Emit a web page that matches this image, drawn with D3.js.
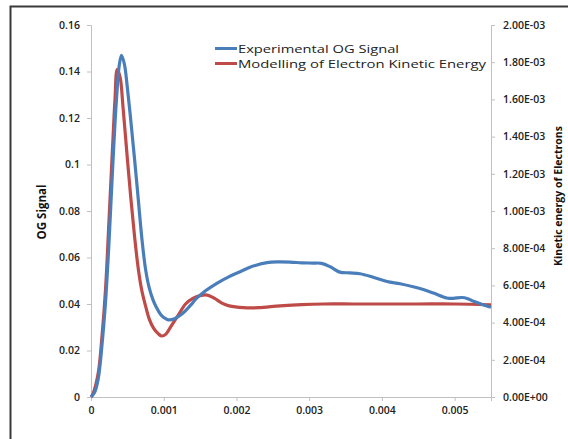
<!DOCTYPE html>
<html><head><meta charset="utf-8">
<script src="https://cdn.jsdelivr.net/npm/d3@7"></script>
<style>
html,body{margin:0;padding:0;background:#fff;}
svg{display:block;font-family:"Open Sans","Liberation Sans",sans-serif;}
</style></head>
<body><svg id="c" width="568" height="439"></svg>
<script>
// ---- data ----
const xTicks = [0, 0.001, 0.002, 0.003, 0.004, 0.005];
const xTickLabels = ["0", "0.001", "0.002", "0.003", "0.004", "0.005"];
const leftTicks = [0, 0.02, 0.04, 0.06, 0.08, 0.1, 0.12, 0.14, 0.16];
const leftTickLabels = ["0", "0.02", "0.04", "0.06", "0.08", "0.1", "0.12", "0.14", "0.16"];
const rightTicks = [0, 0.0002, 0.0004, 0.0006, 0.0008, 0.001, 0.0012, 0.0014, 0.0016, 0.0018, 0.002];
const rightTickLabels = ["0.00E+00", "2.00E-04", "4.00E-04", "6.00E-04", "8.00E-04", "1.00E-03", "1.20E-03", "1.40E-03", "1.60E-03", "1.80E-03", "2.00E-03"];
const seriesNames = ["Experimental OG Signal", "Modelling of Electron Kinetic Energy"];

// Experimental OG signal (left axis)
const ogTime = [0, 0.00005, 0.0001, 0.00015, 0.0002, 0.00025, 0.0003, 0.00035, 0.00039, 0.00042, 0.00046, 0.0005, 0.00055, 0.0006, 0.00065, 0.0007, 0.00075, 0.0008, 0.00085, 0.0009, 0.00095, 0.001, 0.00106, 0.00115, 0.00127, 0.00137, 0.00145, 0.00158, 0.00173, 0.0019, 0.00205, 0.00222, 0.00242, 0.00258, 0.00274, 0.0029, 0.00305, 0.00317, 0.00329, 0.00342, 0.00356, 0.0037, 0.00388, 0.00407, 0.00425, 0.00443, 0.00458, 0.00471, 0.00489, 0.00498, 0.0051, 0.00518, 0.00526, 0.00538, 0.0055];
const ogSignal = [0, 0.002, 0.008, 0.022, 0.041, 0.068, 0.100, 0.128, 0.143, 0.147, 0.143, 0.133, 0.118, 0.102, 0.085, 0.068, 0.055, 0.047, 0.042, 0.0385, 0.0358, 0.0342, 0.0332, 0.0337, 0.0362, 0.0395, 0.0424, 0.0458, 0.0489, 0.0518, 0.0539, 0.0562, 0.0578, 0.0581, 0.0580, 0.0577, 0.0576, 0.0575, 0.0560, 0.0537, 0.0534, 0.0530, 0.0515, 0.0497, 0.0487, 0.0474, 0.0461, 0.0447, 0.0426, 0.0424, 0.0428, 0.0423, 0.0412, 0.0398, 0.0386];

// Modelled electron kinetic energy (right axis)
const keTime = [0, 0.00003, 0.0001, 0.00015, 0.0002, 0.00025, 0.0003, 0.00033, 0.00036, 0.0004, 0.00044, 0.0005, 0.00055, 0.0006, 0.00065, 0.0007, 0.00075, 0.0008, 0.00086, 0.00092, 0.00097, 0.00103, 0.0011, 0.0012, 0.0013, 0.0014, 0.0015, 0.0016, 0.0017, 0.0018, 0.0019, 0.0021, 0.0023, 0.0026, 0.0029, 0.0032, 0.0036, 0.004, 0.0045, 0.005, 0.0055];
const keEnergy = [0, 0.00002, 0.00013, 0.00032, 0.00058, 0.00097, 0.00137, 0.00160, 0.00176, 0.00172, 0.00156, 0.00128, 0.00106, 0.00086, 0.00069, 0.00057, 0.00049, 0.00042, 0.00037, 0.000342, 0.000328, 0.000338, 0.00038, 0.00044, 0.00050, 0.00053, 0.000545, 0.000548, 0.00053, 0.000505, 0.00049, 0.00048, 0.00048, 0.00049, 0.000497, 0.0005, 0.0005, 0.0005, 0.0005, 0.0005, 0.000495];

// ---- chart ----
const svg = d3.select("#c");
const L = 91, R = 491, T = 25, B = 397;
const x = d3.scaleLinear().domain([0, 0.0055]).range([L, R]);
const yL = d3.scaleLinear().domain([0, 0.16]).range([B, T]);
const yR = d3.scaleLinear().domain([0, 0.002]).range([B, T]);

// outer frame
svg.append("rect").attr("x", 10.5).attr("y", 6.5).attr("width", 620).attr("height", 500)
  .attr("fill", "#fff").attr("stroke", "#3a3a3a").attr("stroke-width", 2);

const axisColor = "#c0c0c0";
function styleAxis(g) {
  g.select(".domain").attr("stroke", axisColor);
  g.selectAll(".tick line").attr("stroke", axisColor);
  g.selectAll(".tick text").attr("fill", "#222").attr("font-size", 10.5).attr("font-weight", 600)
    .attr("font-family", "'Open Sans', sans-serif");
}
const gx = svg.append("g").attr("transform", `translate(0,${B})`)
  .call(d3.axisBottom(x).tickValues(xTicks).tickFormat((d, i) => xTickLabels[i]).tickSizeOuter(0).tickSize(4).tickPadding(6));
styleAxis(gx);
const gl = svg.append("g").attr("transform", `translate(${L},0)`)
  .call(d3.axisLeft(yL).tickValues(leftTicks).tickFormat((d, i) => leftTickLabels[i]).tickSizeOuter(0).tickSize(4).tickPadding(7));
styleAxis(gl);
const gr = svg.append("g").attr("transform", `translate(${R},0)`)
  .call(d3.axisRight(yR).tickValues(rightTicks).tickFormat((d, i) => rightTickLabels[i]).tickSizeOuter(0).tickSize(4).tickPadding(8));
styleAxis(gr);

// axis titles
svg.append("text").attr("transform", "translate(46,212) rotate(-90)")
  .attr("text-anchor", "middle").attr("font-size", 11.5).attr("font-weight", 700).attr("fill", "#111")
  .text("OG Signal");
svg.append("text").attr("transform", "translate(562,196) rotate(-90)")
  .attr("text-anchor", "middle").attr("font-size", 10.5).attr("font-weight", 700).attr("fill", "#111")
  .text("Kinetic energy of Electrons");

const colors = ["#4a7ebb", "#be4b48"];
const ogData = ogTime.map((t, i) => [t, ogSignal[i]]);
const keData = keTime.map((t, i) => [t, keEnergy[i]]);
svg.append("path").datum(keData)
  .attr("d", d3.line().x(d => x(d[0])).y(d => yR(d[1])).curve(d3.curveCatmullRom.alpha(0.5)))
  .attr("fill", "none").attr("stroke", colors[1]).attr("stroke-width", 3.2).attr("stroke-linejoin", "round");
svg.append("path").datum(ogData)
  .attr("d", d3.line().x(d => x(d[0])).y(d => yL(d[1])).curve(d3.curveCatmullRom.alpha(0.5)))
  .attr("fill", "none").attr("stroke", colors[0]).attr("stroke-width", 3.2).attr("stroke-linejoin", "round");

// legend
const lg = svg.append("g");
const legendWidths = [161, 248];
seriesNames.forEach((name, i) => {
  const yy = 48.5 + i * 15;
  lg.append("line").attr("x1", 215).attr("x2", 237).attr("y1", yy).attr("y2", yy)
    .attr("stroke", colors[i]).attr("stroke-width", 3);
  lg.append("text").attr("x", 238).attr("y", yy + 4).attr("font-size", 11).attr("fill", "#222")
    .attr("textLength", legendWidths[i]).attr("lengthAdjust", "spacingAndGlyphs")
    .text(name);
});
</script></body></html>
